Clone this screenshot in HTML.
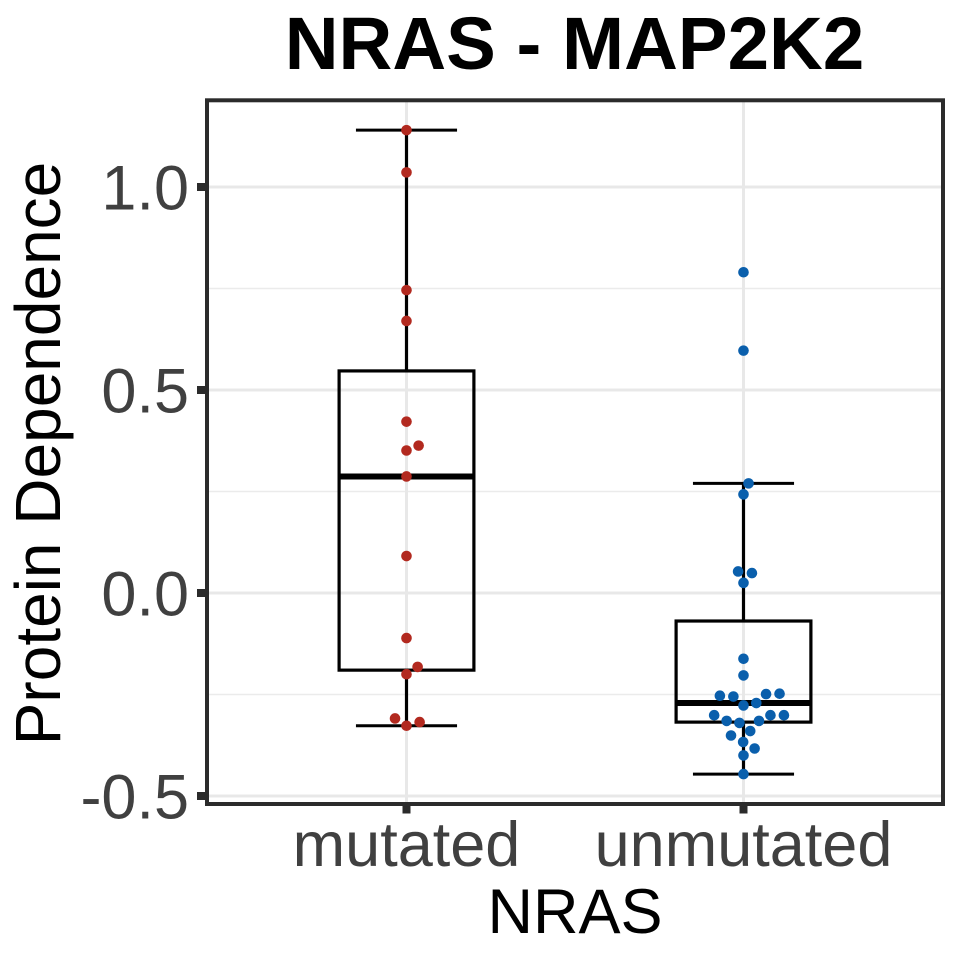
<!DOCTYPE html>
<html>
<head>
<meta charset="utf-8">
<style>
html,body{margin:0;padding:0;background:#fff;}
svg{display:block;}
text{font-family:"Liberation Sans",Arial,sans-serif;}
</style>
</head>
<body>
<svg id="chart" width="960" height="960" viewBox="0 0 960 960" xmlns="http://www.w3.org/2000/svg">
<rect x="0" y="0" width="960" height="960" fill="#ffffff"/>
<text x="574.5" y="69" font-size="74.5" font-weight="700" text-anchor="middle" fill="#000000">NRAS - MAP2K2</text>
<text transform="translate(60,453.5) rotate(-90)" font-size="64" text-anchor="middle" fill="#000000">Protein Dependence</text>
<text x="575" y="933" font-size="63" text-anchor="middle" fill="#000000">NRAS</text>
<g id="grid"></g>
<g id="boxes"></g>
<g id="points"></g>
<rect x="207" y="100.3" width="736" height="703.7" fill="none" stroke="#2b2b2b" stroke-width="4"/>
<g id="axes"></g>
</svg>
<script>
const categories = ['mutated', 'unmutated'];
const yTicks = [1.0, 0.5, 0.0, -0.5];
const yTickLabels = ['1.0', '0.5', '0.0', '-0.5'];
const yMinorTicks = [0.75, 0.25, -0.25];
const seriesColors = ['#b2291f', '#0a5fac'];

const whiskerHigh = [1.14, 0.27];
const q3 = [0.547, -0.069];
const median = [0.287, -0.271];
const q1 = [-0.19, -0.318];
const whiskerLow = [-0.327, -0.446];

const mutatedValues = [1.14, 1.036, 0.746, 0.67, 0.422, 0.351, 0.363, 0.287, 0.091, -0.111, -0.182, -0.2, -0.309, -0.318, -0.327];
const mutatedSwarm = [0, 0, 0, 0, 0, 0, 0.036, 0, 0, 0, 0.033, 0, -0.034, 0.039, 0];
const unmutatedValues = [0.79, 0.597, 0.27, 0.243, 0.053, 0.049, 0.025, -0.162, -0.203, -0.253, -0.255, -0.249, -0.248, -0.271, -0.277, -0.301, -0.301, -0.301, -0.315, -0.315, -0.32, -0.34, -0.351, -0.367, -0.383, -0.4, -0.446];
const unmutatedSwarm = [0, 0, 0.015, 0, -0.016, 0.025, 0, 0, 0, -0.07, -0.03, 0.067, 0.107, 0.038, 0, -0.087, 0.08, 0.12, -0.05, 0.046, -0.012, 0.02, -0.037, -0.001, 0.033, 0, 0];

const NS = 'http://www.w3.org/2000/svg';
function yScale(v) { return 593 - 406 * v; }
function xScale(c) { return 406.5 + 337 * c; }
function make(parent, tag, attrs) {
  const el = document.createElementNS(NS, tag);
  for (const k in attrs) el.setAttribute(k, attrs[k]);
  parent.appendChild(el);
  return el;
}
const gridG = document.getElementById('grid');
const boxesG = document.getElementById('boxes');
const pointsG = document.getElementById('points');
const axesG = document.getElementById('axes');
const PL = 207, PR = 943;

yMinorTicks.forEach(function (v) {
  const l = make(gridG, 'line', {x1: PL, x2: PR, y1: yScale(v), y2: yScale(v), stroke: '#ebebeb', 'stroke-width': 1.6});
  
  
});
yTicks.forEach(function (v) {
  const l = make(gridG, 'line', {x1: PL, x2: PR, y1: yScale(v), y2: yScale(v), stroke: '#e8e8e8', 'stroke-width': 3});
  
  
});
categories.forEach(function (c, i) {
  const l = make(gridG, 'line', {x1: xScale(i), x2: xScale(i), y1: 100, y2: 804, stroke: '#e8e8e8', 'stroke-width': 3});
  
  
});

categories.forEach(function (c, i) {
  const x = xScale(i);
  const halfBox = 0.2 * 337, halfCap = 0.15 * 337;
  const upper = make(boxesG, 'line', {x1: x, x2: x, y1: yScale(whiskerHigh[i]), y2: yScale(q3[i]), stroke: '#000', 'stroke-width': 3.2});
  
  
  const lower = make(boxesG, 'line', {x1: x, x2: x, y1: yScale(q1[i]), y2: yScale(whiskerLow[i]), stroke: '#000', 'stroke-width': 3.2});
  
  
  const capH = make(boxesG, 'line', {x1: x - halfCap, x2: x + halfCap, y1: yScale(whiskerHigh[i]), y2: yScale(whiskerHigh[i]), stroke: '#000', 'stroke-width': 3});
  
  
  const capL = make(boxesG, 'line', {x1: x - halfCap, x2: x + halfCap, y1: yScale(whiskerLow[i]), y2: yScale(whiskerLow[i]), stroke: '#000', 'stroke-width': 3});
  
  
  const box = make(boxesG, 'rect', {x: x - halfBox, y: yScale(q3[i]), width: 2 * halfBox, height: yScale(q1[i]) - yScale(q3[i]), fill: 'none', stroke: '#000', 'stroke-width': 3.2});
  
  
  const med = make(boxesG, 'line', {x1: x - halfBox, x2: x + halfBox, y1: yScale(median[i]), y2: yScale(median[i]), stroke: '#000', 'stroke-width': 6});
  
  
});

[[mutatedValues, mutatedSwarm], [unmutatedValues, unmutatedSwarm]].forEach(function (s, i) {
  s[0].forEach(function (v, j) {
    const p = make(pointsG, 'circle', {cx: xScale(i + s[1][j]), cy: yScale(v), r: 5.3, fill: seriesColors[i]});
    
    
  });
});

yTicks.forEach(function (v, i) {
  const t = make(axesG, 'line', {x1: 197, x2: 205, y1: yScale(v), y2: yScale(v), stroke: '#2b2b2b', 'stroke-width': 8});
  
  
  const l = make(axesG, 'text', {x: 189, y: yScale(v) + 22.5, 'font-size': 63, 'text-anchor': 'end', fill: '#404040'});
  l.textContent = yTickLabels[i];
  
  
});
categories.forEach(function (c, i) {
  const t = make(axesG, 'line', {x1: xScale(i), x2: xScale(i), y1: 806, y2: 813.5, stroke: '#2b2b2b', 'stroke-width': 8});
  
  
  const l = make(axesG, 'text', {x: xScale(i), y: 866, 'font-size': 63, 'text-anchor': 'middle', fill: '#404040'});
  l.textContent = c;
  
  
});
</script>
</body>
</html>
